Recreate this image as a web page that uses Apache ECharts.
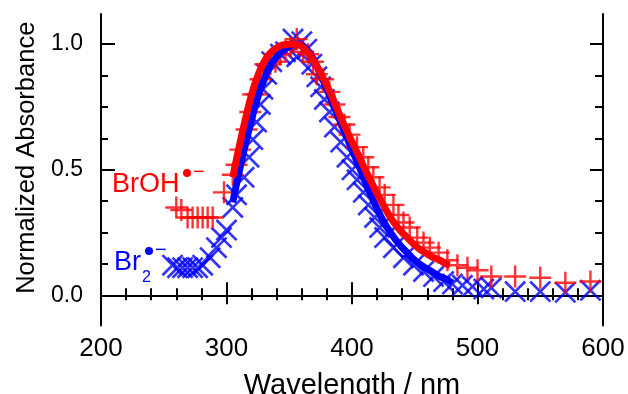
<!DOCTYPE html>
<html>
<head>
<meta charset="utf-8">
<script src="https://cdn.jsdelivr.net/npm/echarts@6/dist/echarts.min.js"></script>
<style>html,body{margin:0;padding:0;background:#fff}#c{width:628px;height:394px}</style>
</head>
<body>
<div id="c"></div>
<script>
// ---- data ----
const brohWl  = [260,264,269,273,277,281,285,289,298,305,308,311,316,319,321,324,327,331,335,339,343,347,351,356,361,365,369,372,377,382,386,390,394,398,404,409,413,417,422,426,433,437,441,446,452,457,462,469,476,484,492,500,511,530,550,570,590];
const brohVal = [0.35,0.34,0.31,0.31,0.31,0.31,0.31,0.31,0.41,0.48,0.52,0.58,0.66,0.73,0.80,0.80,0.86,0.92,0.92,0.93,0.96,0.98,0.99,1.02,0.97,0.96,0.93,0.88,0.86,0.81,0.76,0.71,0.68,0.64,0.59,0.55,0.51,0.47,0.43,0.40,0.36,0.32,0.29,0.27,0.23,0.21,0.19,0.17,0.14,0.12,0.11,0.10,0.075,0.075,0.07,0.05,0.055];

const br2Wl  = [257,261,265,269,273,277,281,287,292,296,300,305,308,314,318,321,324,327,329,332,336,343,347,353,356,360,364,368,372,375,378,382,386,391,396,400,404,409,413,418,422,426,433,441,449,457,465,473,480,488,496,505,511,530,550,570,590];
const br2Val = [0.12,0.11,0.11,0.11,0.11,0.11,0.12,0.15,0.19,0.23,0.26,0.35,0.40,0.47,0.55,0.62,0.69,0.76,0.82,0.88,0.93,0.96,0.97,1.02,0.95,1.01,0.98,0.92,0.87,0.83,0.78,0.73,0.67,0.61,0.55,0.50,0.46,0.41,0.36,0.31,0.27,0.23,0.19,0.15,0.12,0.095,0.075,0.055,0.045,0.04,0.035,0.025,0.03,0.015,0.015,0.012,0.02];

const brohFitWl  = [305,310,315,320,325,330,335,340,345,350,355,360,365,370,375,380,385,390,395,400,405,410,415,420,425,430,435,440,445,450,455,460,465,470,475,478];
const brohFitVal = [0.47,0.59,0.70,0.80,0.875,0.93,0.965,0.985,0.997,1.0,1.0,0.99,0.965,0.93,0.885,0.835,0.78,0.72,0.665,0.61,0.56,0.505,0.455,0.405,0.36,0.315,0.28,0.25,0.225,0.2,0.18,0.165,0.15,0.14,0.125,0.12];

const br2FitWl  = [305,310,315,320,325,330,335,340,345,350,355,360,365,370,375,380,385,390,395,400,405,410,415,420,425,430,435,440,445,450,455,460,465,470,475,480];
const br2FitVal = [0.37,0.49,0.60,0.70,0.79,0.86,0.915,0.95,0.975,0.99,1.0,0.995,0.97,0.93,0.88,0.82,0.76,0.70,0.64,0.58,0.52,0.46,0.40,0.345,0.295,0.255,0.22,0.19,0.165,0.14,0.12,0.105,0.09,0.075,0.065,0.05];

const xTicks = [200,300,400,500,600];
const yMajor = [0,0.5,1];
const yMinor = [0.125,0.25,0.375,0.625,0.75,0.875];

const zip = (a,b) => a.map((x,i)=>[x,b[i]]);
const FF = 'Liberation Sans, Arial, sans-serif';
const PLUS = 'path://M0,9.8 L22,9.8 L22,12.2 L0,12.2 Z M9.8,0 L12.2,0 L12.2,22 L9.8,22 Z';
const CROSS = 'path://M0,1.7 L1.7,0 L20,18.3 L18.3,20 Z M18.3,0 L20,1.7 L1.7,20 L0,18.3 Z';

const chart = echarts.init(document.getElementById('c'), null, {renderer:'canvas'});
const black = {color:'#000', width:2};
const yBase = {type:'value', min:-0.12, max:1.12, splitLine:{show:false}};
chart.setOption({
  animation:false,
  backgroundColor:'#fff',
  grid:{left:101, right:25, top:14, bottom:68.5, containLabel:false, outerBoundsMode:'none'},
  xAxis:[
    {type:'value', min:xTicks[0], max:xTicks[xTicks.length-1], interval:100, position:'bottom',
     axisLine:{lineStyle:black}, axisTick:{inside:true, length:13, lineStyle:black},
     minorTick:{show:true, splitNumber:5, length:7, lineStyle:black},
     splitLine:{show:false}, minorSplitLine:{show:false},
     axisLabel:{fontSize:26, color:'#000', margin:10, fontFamily:FF},
     name:'Wavelength / nm', nameLocation:'middle', nameGap:46,
     nameTextStyle:{fontSize:29, color:'#000', fontFamily:FF}},
    {type:'value', min:xTicks[0], max:xTicks[xTicks.length-1], interval:100, position:'top',
     axisLine:{lineStyle:black}, axisTick:{inside:true, length:9, lineStyle:black},
     minorTick:{show:true, splitNumber:5, length:5, lineStyle:black},
     splitLine:{show:false}, axisLabel:{show:false}}
  ],
  yAxis:[
    Object.assign({}, yBase, {position:'left',
     axisLine:{show:true, lineStyle:black},
     axisTick:{show:true, inside:true, length:14, lineStyle:black, customValues:yMajor},
     axisLabel:{customValues:yMajor, formatter:v=>v.toFixed(1), fontSize:23, color:'#000', margin:18, fontFamily:FF},
     name:'Normalized Absorbance', nameLocation:'middle', nameGap:57,
     nameTextStyle:{fontSize:25.5, color:'#000', fontFamily:FF, padding:[0,0,0,24]}}),
    Object.assign({}, yBase, {position:'left',
     axisLine:{show:false},
     axisTick:{show:true, inside:true, length:7, lineStyle:black, customValues:yMinor},
     axisLabel:{show:false}}),
    Object.assign({}, yBase, {position:'right',
     axisLine:{show:true, lineStyle:black},
     axisTick:{show:true, inside:true, length:13, lineStyle:black, customValues:yMajor},
     axisLabel:{show:false}}),
    Object.assign({}, yBase, {position:'right',
     axisLine:{show:false},
     axisTick:{show:true, inside:true, length:8, lineStyle:black, customValues:yMinor},
     axisLabel:{show:false}})
  ],
  series:[
    {type:'scatter', name:'Br2 data', data:zip(br2Wl,br2Val), symbol:CROSS, symbolSize:22,
     itemStyle:{color:'#0000ff'}, z:2},
    {type:'scatter', name:'BrOH data', data:zip(brohWl,brohVal), symbol:PLUS, symbolSize:22,
     itemStyle:{color:'#ff0000'}, z:3},
    {type:'line', name:'Br2 fit', data:zip(br2FitWl,br2FitVal), smooth:true, showSymbol:false,
     lineStyle:{color:'#0000ff', width:7}, z:4},
    {type:'line', name:'BrOH fit', data:zip(brohFitWl,brohFitVal), smooth:true, showSymbol:false,
     lineStyle:{color:'#ff0000', width:7}, z:5}
  ],
  graphic:[
    {type:'text', x:112, y:185, style:{text:'BrOH', fill:'#ff0000', font:'27px '+FF, verticalAlign:'middle', align:'left'}},
    {type:'circle', shape:{cx:187, cy:173, r:4}, style:{fill:'#ff0000'}},
    {type:'text', x:193, y:172, style:{text:'\u2212', fill:'#ff0000', font:'20px '+FF, verticalAlign:'middle', align:'left'}},
    {type:'text', x:114, y:263, style:{text:'Br', fill:'#0000ff', font:'27px '+FF, verticalAlign:'middle', align:'left'}},
    {type:'text', x:142, y:278, style:{text:'2', fill:'#0000ff', font:'16px '+FF, verticalAlign:'middle', align:'left'}},
    {type:'circle', shape:{cx:149, cy:251, r:4}, style:{fill:'#0000ff'}},
    {type:'text', x:155, y:250, style:{text:'\u2212', fill:'#0000ff', font:'20px '+FF, verticalAlign:'middle', align:'left'}}
  ]
});
</script>
</body>
</html>
